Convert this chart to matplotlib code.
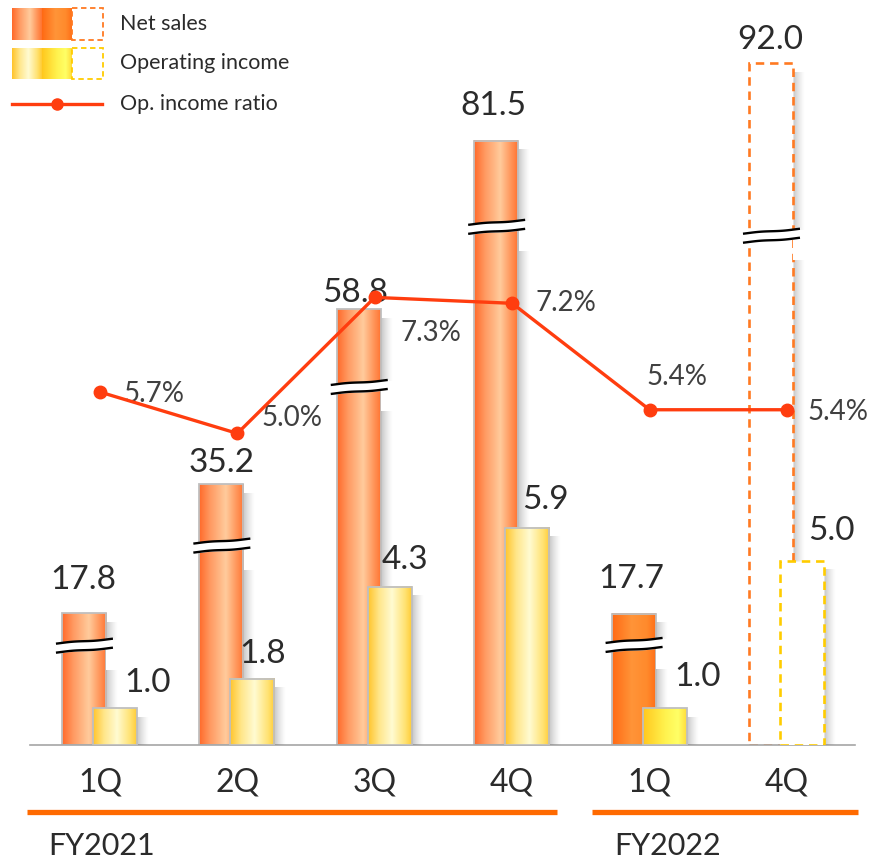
import numpy as np
import matplotlib.pyplot as plt
from matplotlib.colors import LinearSegmentedColormap
from matplotlib.patches import Rectangle
from matplotlib.lines import Line2D

plt.rcParams["font.family"] = ["Lato", "DejaVu Sans"]

# quarterly results (billion yen); last column is the full-year forecast
quarters = ["1Q", "2Q", "3Q", "4Q", "1Q", "4Q"]
net_sales = [17.8, 35.2, 58.8, 81.5, 17.7, 92.0]
op_income = [1.0, 1.8, 4.3, 5.9, 1.0, 5.0]
op_ratio = [5.7, 5.0, 7.3, 7.2, 5.4, 5.4]
bar_kind = ["fy21", "fy21", "fy21", "fy21", "fy22", "plan"]
years = ["FY2021", "FY2022"]

# where the "~~" break symbol sits on each net sales bar
break_at = [13.4, 26.9, 48.3, 69.9, 13.5, 68.7]

# label nudges in pixels (dx, dy), measured from the mark
net_lbl = [(-1, 33), (0, 21), (-4, 16), (-3, 35), (-2, 35), (-1, 23)]
op_lbl = [(33, 25), (10, 25), (15, 27), (18, 28), (33, 31), (29, 30)]
pct_lbl = [(54, -2), (55, 15), (56, -36), (54, 0), (27, 33), (51, -2)]

TEXT = "#2B2B2B"
EDGE = "#BFBFBF"
LINE = "#FF3D0F"
ORANGE = "#FF6A00"

net_cmaps = {
    "fy21": LinearSegmentedColormap.from_list(
        "n21", [(0, "#FF6A2A"), (0.25, "#FF9A62"), (0.6, "#FFCB9C"), (0.85, "#FF9458"), (1, "#FF7432")]),
    "fy22": LinearSegmentedColormap.from_list(
        "n22", [(0, "#FF6A14"), (0.45, "#FF9438"), (0.8, "#FF8A2C"), (1, "#FF7018")]),
}
op_cmaps = {
    "fy21": LinearSegmentedColormap.from_list(
        "o21", [(0, "#FFC42C"), (0.25, "#FFE68A"), (0.55, "#FFFBD2"), (0.85, "#FFE272"), (1, "#FFCC36")]),
    "fy22": LinearSegmentedColormap.from_list(
        "o22", [(0, "#FFC81E"), (0.5, "#FFF24E"), (0.8, "#FFFF66"), (1, "#FFDC3A")]),
}
plan_colors = {"net": "#FF7A22", "op": "#FFCC00"}

W, H = 874, 859
fig = plt.figure(figsize=(W / 100, H / 100), dpi=100)
ax = fig.add_axes([30 / W, 114 / H, 825 / W, 745 / H])
ax2 = ax.twinx()
ax3 = ax.twinx()

XLIM = (-0.509, 5.495)
NET_LIM = (0, 100.5)
OP_LIM = (0, 20.24)
PCT_LIM = (-0.27, 12.33)
PX_X = 825 / (XLIM[1] - XLIM[0])
PX_NET = 745 / NET_LIM[1]
PX_OP = 745 / OP_LIM[1]

bw = 44 / PX_X
net_off = -16 / PX_X
op_off = 15 / PX_X
x = np.arange(len(quarters))

shade = np.zeros((1, 40, 4))
shade[..., :3] = 0.45
shade[..., 3] = np.linspace(0.5, 0.0, 40) ** 1.3


def draw_bar(axis, x0, h, px_y, kind, cmap_set, plan_color, z):
    # soft drop shadow on the right-hand side
    axis.imshow(shade, extent=[x0 + bw, x0 + bw + 12 / PX_X, 0, h - 9 / px_y],
                aspect="auto", zorder=z, interpolation="bilinear")
    if kind == "plan":
        axis.add_patch(Rectangle((x0, 0), bw, h, fc="white", ec=plan_color, lw=1.9,
                                 ls=(0, (3.2, 2.2)), zorder=z + 0.2))
    else:
        axis.imshow(np.linspace(0, 1, 128)[None, :], cmap=cmap_set[kind],
                    extent=[x0, x0 + bw, 0, h], aspect="auto", zorder=z + 0.1,
                    interpolation="bilinear")
        axis.add_patch(Rectangle((x0, 0), bw, h, fill=False, ec=EDGE, lw=1.3, zorder=z + 0.2))


def draw_break(x0, yb):
    t = np.linspace(0, 1, 60)
    xs = x0 - 6 / PX_X + t * (bw + 13 / PX_X)
    wave = -np.cos(np.pi * t) * 2.5 / PX_NET + np.sin(2 * np.pi * t) * 1.0 / PX_NET
    gap = 4.5 / PX_NET
    ax.add_patch(Rectangle((x0 + bw + 0.5 / PX_X, yb - 24 / PX_NET), 13 / PX_X, 30 / PX_NET,
                           fc="white", ec="none", zorder=5))
    ax.fill_between(xs, yb - gap + wave, yb + gap + wave, color="white", zorder=6)
    ax.plot(xs, yb + gap + wave, color="black", lw=1.7, zorder=7, solid_capstyle="butt")
    ax.plot(xs, yb - gap + wave, color="black", lw=1.7, zorder=7, solid_capstyle="butt")


for i in range(len(quarters)):
    draw_bar(ax, x[i] + net_off - bw / 2, net_sales[i], PX_NET, bar_kind[i],
             net_cmaps, plan_colors["net"], 2)
    draw_break(x[i] + net_off - bw / 2, break_at[i])
    draw_bar(ax2, x[i] + op_off - bw / 2, op_income[i], PX_OP, bar_kind[i],
             op_cmaps, plan_colors["op"], 2)

for i in range(len(quarters)):
    ax3.annotate(f"{net_sales[i]:.1f}", (x[i] + net_off, net_sales[i] / NET_LIM[1]),
                 xycoords=("data", "axes fraction"), xytext=net_lbl[i], textcoords="offset pixels",
                 ha="center", va="center", fontsize=24, color=TEXT, zorder=4)
    ax3.annotate(f"{op_income[i]:.1f}", (x[i] + op_off, op_income[i] / OP_LIM[1]),
                 xycoords=("data", "axes fraction"), xytext=op_lbl[i], textcoords="offset pixels",
                 ha="center", va="center", fontsize=24, color=TEXT, zorder=4)
    ax3.annotate(f"{op_ratio[i]:.1f}%", (x[i], op_ratio[i]), xytext=pct_lbl[i],
                 textcoords="offset pixels", ha="center", va="center", fontsize=20,
                 color="#404040", zorder=4)

ax3.plot(x, op_ratio, color=LINE, lw=2.4, marker="o", ms=9, zorder=5)

for a, lim in ((ax, NET_LIM), (ax2, OP_LIM), (ax3, PCT_LIM)):
    a.set_xlim(*XLIM)
    a.set_ylim(*lim)
    a.set_yticks([])
    for s in ("top", "left", "right"):
        a.spines[s].set_visible(False)
    a.spines["bottom"].set_visible(a is ax)
ax.spines["bottom"].set_color("#A6A6A6")
ax.spines["bottom"].set_linewidth(1.2)
ax.set_xticks(x, quarters)
ax.tick_params(axis="x", length=0, pad=16, labelsize=23, labelcolor=TEXT)

# overlay in pixel units for the fiscal-year bands and the legend
ov = fig.add_axes([0, 0, 1, 1], zorder=20)
ov.set_xlim(0, W)
ov.set_ylim(H, 0)
ov.axis("off")

ov.plot([27, 557], [812, 812], color=ORANGE, lw=3.8, solid_capstyle="butt")
ov.plot([592, 858], [812, 812], color=ORANGE, lw=3.8, solid_capstyle="butt")
ov.text(48, 846, years[0], fontsize=22, color=TEXT, va="center", ha="left")
ov.text(614, 846, years[1], fontsize=22, color=TEXT, va="center", ha="left")


def legend_icon(y0, y1, cmaps, plan_color):
    g = np.linspace(0, 1, 64)[None, :]
    ov.imshow(g, cmap=cmaps["fy21"], extent=[12, 42, y1, y0], aspect="auto", zorder=1)
    ov.imshow(g, cmap=cmaps["fy22"], extent=[42, 72, y1, y0], aspect="auto", zorder=1)
    ov.add_patch(Rectangle((72, y0), 31, y1 - y0, fc="white", ec=plan_color, lw=1.3,
                           ls=(0, (3, 2)), zorder=2))


legend_icon(8, 40, net_cmaps, plan_colors["net"])
legend_icon(48, 79, op_cmaps, plan_colors["op"])
ov.add_line(Line2D([12, 102], [104, 104], color=LINE, lw=2.4))
ov.plot([57], [104], "o", color=LINE, ms=8)
ov.text(120, 24, "Net sales", fontsize=15.5, color=TEXT, va="center")
ov.text(120, 63, "Operating income", fontsize=15.5, color=TEXT, va="center")
ov.text(120, 104, "Op. income ratio", fontsize=15.5, color=TEXT, va="center")
ov.set_xlim(0, W)
ov.set_ylim(H, 0)

fig.savefig("out.png", dpi=100, facecolor="white")
